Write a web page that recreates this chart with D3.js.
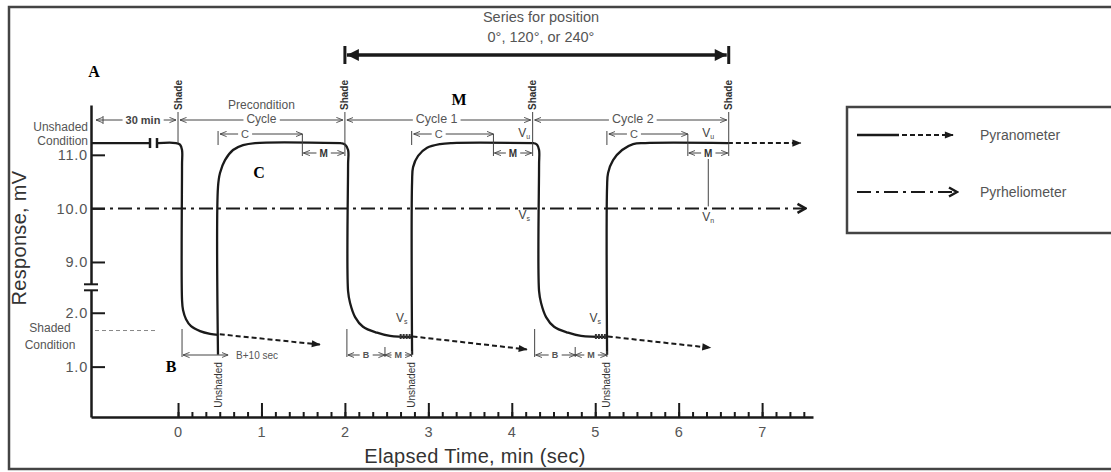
<!DOCTYPE html>
<meta charset="utf-8">
<style>
  body { margin: 0; background: #fff; }
  svg { display: block; font-family: "Liberation Sans", Arial, sans-serif; }
</style>
<body>
<div class="chart"></div>
<script src="https://d3js.org/d3.v7.min.js"></script>
<script>
// ---- data (time in min, response in mV) ----
const xTicks = [0, 1, 2, 3, 4, 5, 6, 7];
const yTicks = [11.0, 10.0, 9.0, 2.0, 1.0];
const unshadedLevel = 11.22;
const shadedLevel = 1.67;
const pyrhelioLevel = 10.0;

const shadeTimes = [0, 2.0, 4.25, 6.6];
const unshadeTimes = [0.48, 2.80, 5.14];
const mStarts = [1.49, 3.78, 6.11];
const bEnds = [0.62, 2.48, 4.76];

// pyranometer trace, points along the drawn curve
const pyranoLead = [[-1.043, 11.22], [-0.33, 11.22]];
const pyranoDrops = [
  [[-0.24, 11.22], [-0.024, 11.22], [0.024, 11.19], [0.048, 11.09], [0.048, 10.81], [0.048, 2.24],
   [0.060, 2.05], [0.096, 1.88], [0.156, 1.75], [0.264, 1.66], [0.384, 1.61], [0.479, 1.59]],
  [[1.954, 11.22], [2.002, 11.19], [2.038, 11.09], [2.038, 10.81], [2.038, 2.42],
   [2.062, 2.18], [2.122, 1.92], [2.217, 1.74], [2.385, 1.63], [2.541, 1.57], [2.805, 1.55]],
  [[4.267, 11.22], [4.303, 11.19], [4.327, 11.09], [4.327, 10.81], [4.327, 2.42],
   [4.351, 2.18], [4.411, 1.92], [4.507, 1.74], [4.675, 1.63], [4.830, 1.57], [5.142, 1.55]]
];
const pyranoRises = [
  [[0.479, 1.22], [0.479, 10.40], [0.503, 10.66], [0.563, 10.90], [0.659, 11.09], [0.779, 11.18],
   [0.923, 11.22], [1.954, 11.22]],
  [[2.805, 1.22], [2.805, 10.49], [2.817, 10.77], [2.877, 10.98], [2.985, 11.13], [3.140, 11.20],
   [3.284, 11.22], [4.267, 11.22]],
  [[5.142, 1.22], [5.142, 10.40], [5.154, 10.66], [5.214, 10.90], [5.322, 11.09], [5.454, 11.20],
   [5.598, 11.22], [6.592, 11.22]]
];
const shadedTails = [
  [[0.50, 1.60], [1.70, 1.41]],
  [[2.81, 1.56], [4.18, 1.32]],
  [[5.15, 1.56], [6.38, 1.35]]
];
const unshadedTail = [[6.59, 11.22], [7.46, 11.22]];
const pyrhelio = [[-1.043, 10.0], [7.52, 10.0]];

const W = 1111, H = 472;
const svg = d3.select(".chart").append("svg").attr("width", W).attr("height", H);

const x = d3.scaleLinear().domain([-1.043, 7.61]).range([91, 813]);
// broken axis: lower part 0..2.4, upper part 8.6..11.93
const y = d3.scaleLinear().domain([0.065, 2.4, 8.6, 11.93]).range([417, 291.2, 283.4, 105]);

const ink = "#1a1a1a", grey = "#555";

// markers
const defs = svg.append("defs");
defs.append("marker").attr("id", "tri").attr("viewBox", "0 0 10 10")
  .attr("refX", 9).attr("refY", 5).attr("markerWidth", 10).attr("markerHeight", 9)
  .attr("markerUnits", "userSpaceOnUse").attr("orient", "auto-start-reverse")
  .append("path").attr("d", "M0,1L10,5L0,9Z").attr("fill", ink);
defs.append("marker").attr("id", "chev").attr("viewBox", "0 0 12 12")
  .attr("refX", 10).attr("refY", 6).attr("markerWidth", 12).attr("markerHeight", 12)
  .attr("markerUnits", "userSpaceOnUse").attr("orient", "auto")
  .append("path").attr("d", "M2,1.5L10,6L2,10.5").attr("fill", "none").attr("stroke", ink).attr("stroke-width", 2.5);
defs.append("marker").attr("id", "small").attr("viewBox", "0 0 8 8")
  .attr("refX", 7.5).attr("refY", 4).attr("markerWidth", 7).attr("markerHeight", 7)
  .attr("markerUnits", "userSpaceOnUse").attr("orient", "auto-start-reverse")
  .append("path").attr("d", "M0,1L7.5,4L0,7").attr("fill", "none").attr("stroke", "#444").attr("stroke-width", 1);
defs.append("marker").attr("id", "big").attr("viewBox", "0 0 12 12")
  .attr("refX", 12).attr("refY", 6).attr("markerWidth", 13).attr("markerHeight", 12)
  .attr("markerUnits", "userSpaceOnUse").attr("orient", "auto-start-reverse")
  .append("path").attr("d", "M0,0L12,6L0,12Z").attr("fill", ink);

// outer frame
svg.append("rect").attr("x", 9).attr("y", 7).attr("width", 1130).attr("height", 462)
  .attr("fill", "none").attr("stroke", "#444").attr("stroke-width", 2.5);

// axes
svg.append("g").attr("transform", `translate(0,${y.range()[0]})`)
  .call(d3.axisBottom(x).tickValues(xTicks).tickSize(-14).tickSizeOuter(0).tickPadding(10).tickFormat(d3.format("d")));
svg.append("g").attr("transform", `translate(0,${y.range()[0]})`)
  .call(d3.axisBottom(x).tickValues(d3.range(0, 7.61, 1 / 6)).tickSize(-5).tickSizeOuter(0).tickFormat(""))
  .call(g => g.select(".domain").remove());
svg.append("g").attr("transform", `translate(${x.range()[0]},0)`)
  .call(d3.axisLeft(y).tickValues(yTicks).tickSize(-14).tickSizeOuter(0).tickPadding(3).tickFormat(d3.format(".1f")));
svg.selectAll(".domain").attr("stroke", ink).attr("stroke-width", 2.5);
svg.selectAll(".tick line").attr("stroke", ink).attr("stroke-width", 2);
svg.selectAll(".tick text").attr("fill", grey).attr("font-size", 14.5).attr("letter-spacing", 0.8);

// y-axis break
const yb = (y(2.4) + y(8.6)) / 2;
svg.append("rect").attr("x", 84).attr("y", yb - 3).attr("width", 14).attr("height", 6).attr("fill", "#fff");
[-3, 3].forEach(o => svg.append("line").attr("x1", 84).attr("x2", 98).attr("y1", yb + o).attr("y2", yb + o)
  .attr("stroke", ink).attr("stroke-width", 2));

// axis titles
svg.append("text").attr("transform", "translate(26,238) rotate(-90)").attr("text-anchor", "middle")
  .attr("font-size", 20).attr("fill", "#333").attr("letter-spacing", 0.3).text("Response, mV");
svg.append("text").attr("x", 475).attr("y", 463).attr("text-anchor", "middle")
  .attr("font-size", 20).attr("fill", "#333").attr("letter-spacing", 0.3).text("Elapsed Time, min (sec)");

// shaded reference level
svg.append("line").attr("x1", 95).attr("x2", 156).attr("y1", y(shadedLevel)).attr("y2", y(shadedLevel))
  .attr("stroke", "#888").attr("stroke-width", 1).attr("stroke-dasharray", "4,3");

const line = d3.line().x(d => x(d[0])).y(d => y(d[1]));
const curve = d3.line().x(d => x(d[0])).y(d => y(d[1])).curve(d3.curveCatmullRom.alpha(0.5));

// pyrheliometer
svg.append("path").attr("d", line(pyrhelio)).attr("fill", "none").attr("stroke", ink)
  .attr("stroke-width", 2).attr("stroke-dasharray", "14,5,3,5").attr("marker-end", "url(#chev)");

// pyranometer
const pyr = svg.append("g").attr("fill", "none").attr("stroke", ink).attr("stroke-width", 2.3);
pyr.append("path").attr("d", line(pyranoLead));
pyranoDrops.concat(pyranoRises).forEach(p => pyr.append("path").attr("d", curve(p)));
shadedTails.concat([unshadedTail]).forEach(p => pyr.append("path").attr("d", line(p))
  .attr("stroke-width", 2).attr("stroke-dasharray", "5,3").attr("marker-end", "url(#tri)"));
// break symbol on lead line
const yu = y(unshadedLevel);
[150, 157].forEach(px => svg.append("line").attr("x1", px).attr("x2", px).attr("y1", yu - 5).attr("y2", yu + 5)
  .attr("stroke", ink).attr("stroke-width", 2.5));
// measurement marks at end of shaded decay
unshadeTimes.slice(1).forEach(t => svg.append("line").attr("x1", x(t) - 12).attr("x2", x(t)).attr("y1", y(1.56)).attr("y2", y(1.56))
  .attr("stroke", "#333").attr("stroke-width", 5).attr("stroke-dasharray", "2,1"));

// ---- annotations ----
const ann = svg.append("g").attr("fill", "none").attr("stroke", "#444").attr("stroke-width", 1);
function dim(x0, x1, yy) {
  ann.append("line").attr("x1", x0).attr("x2", x1).attr("y1", yy).attr("y2", yy)
    .attr("marker-start", "url(#small)").attr("marker-end", "url(#small)");
}
function label(txt, px, py, size, opts = {}) {
  const t = svg.append("text").attr("x", px).attr("y", py).attr("text-anchor", opts.anchor || "middle")
    .attr("dominant-baseline", "central").attr("font-size", size).attr("fill", opts.fill || grey)
    .attr("font-weight", opts.weight || null).text(txt);
  if (opts.bg) {
    const b = t.node().getBBox();
    svg.insert("rect", () => t.node()).attr("x", b.x - 3).attr("y", b.y).attr("width", b.width + 6)
      .attr("height", b.height).attr("fill", "#fff");
  }
  return t;
}
function vline(px, y0, y1, w) {
  ann.append("line").attr("x1", px).attr("x2", px).attr("y1", y0).attr("y2", y1).attr("stroke-width", w || 1);
}

// top row: 30 min | precondition | cycle 1 | cycle 2
const rowY = 120;
const segEnds = [x.range()[0] + 3].concat(shadeTimes.map(t => x(t)));
for (let i = 0; i < 4; i++) dim(segEnds[i] + 2, segEnds[i + 1] - 2, rowY);
vline(103, rowY - 4, rowY + 4);
label("30 min", x(-0.42), rowY, 11, { bg: true, weight: "bold", fill: "#444" });
label("Cycle", x(1.0), rowY - 1, 12, { bg: true });
label("Precondition", x(1.0), rowY - 15, 12);
label("Cycle 1", x(3.1), rowY - 1, 12.5, { bg: true });
label("Cycle 2", x(5.45), rowY - 1, 12.5, { bg: true });
shadeTimes.forEach(t => {
  vline(x(t), 112, yu);
  svg.append("text").attr("transform", `translate(${x(t)},95) rotate(-90)`).attr("text-anchor", "middle")
    .attr("dominant-baseline", "central").attr("font-size", 10).attr("font-weight", "bold")
    .attr("fill", "#333").text("Shade");
});
unshadeTimes.forEach(t => {
  svg.append("text").attr("transform", `translate(${x(t)},385) rotate(-90)`).attr("text-anchor", "middle")
    .attr("dominant-baseline", "central").attr("font-size", 10).attr("fill", "#333").text("Unshaded");
});

// C and M brackets on the plateau
const cY = 134, mY = 153;
unshadeTimes.forEach((t, i) => {
  vline(x(t), cY - 3, cY + 11);
  dim(x(t) + 2, x(mStarts[i]), cY);
  label("C", x(t) + 27, cY, 11, { bg: true });
  vline(x(mStarts[i]), cY, mY + 3);
  vline(x(shadeTimes[i + 1]), yu, mY + 3);
  dim(x(mStarts[i]) + 1, x(shadeTimes[i + 1]) - 1, mY);
  label("M", (x(mStarts[i]) + x(shadeTimes[i + 1])) / 2, mY, 10, { bg: true, weight: "bold", fill: "#333" });
});
// line from last M window down to pyrheliometer level
const mMid = (x(mStarts[2]) + x(shadeTimes[3])) / 2;
vline(mMid, mY + 6, y(pyrhelioLevel) - 2);

// B brackets in the shaded part
const bY = 355;
vline(x(0.048), 329, bY + 2);
dim(x(0.048) + 1, x(unshadeTimes[0]) + 10, bY);
label("B+10 sec", x(unshadeTimes[0]) + 18, bY, 10, { anchor: "start" });
[1, 2].forEach(i => {
  const s = x(shadeTimes[i]) + 2, b = x(bEnds[i]), e = x(unshadeTimes[i]);
  vline(s, 329, bY + 2);
  dim(s + 1, b, bY);
  vline(b, bY - 8, bY + 2);
  dim(b, e, bY);
  vline(e, bY - 4, bY + 2);
  label("B", (s + b) / 2, bY, 9, { bg: true, weight: "bold" });
  label("M", (b + e) / 2, bY, 9, { bg: true, weight: "bold" });
});

// V labels
function vlab(px, py, sub) {
  const t = svg.append("text").attr("x", px).attr("y", py).attr("text-anchor", "middle")
    .attr("dominant-baseline", "central").attr("font-size", 12).attr("fill", "#444").text("V");
  t.append("tspan").attr("font-size", 7).attr("dy", 3).text(sub);
}
vlab(x(4.15), 133, "u");
vlab(mMid, 133, "u");
vlab(x(4.15), 215, "s");
vlab(mMid, 217, "n");
vlab(x(2.68), 318, "s");
vlab(x(5.0), 318, "s");

// left side condition labels
label("Unshaded", 88, 127, 12, { anchor: "end" });
label("Condition", 88, 141, 12, { anchor: "end" });
label("Shaded", 50, 328, 12);
label("Condition", 50, 345, 12);

// header bracket
label("Series for position", x(4.35), 17, 14.5);
label("0°, 120°, or 240°", x(4.35), 37, 14.5);
const hY = 55;
svg.append("line").attr("x1", x(shadeTimes[1]) + 2).attr("x2", x(shadeTimes[3]) - 2).attr("y1", hY).attr("y2", hY)
  .attr("stroke", ink).attr("stroke-width", 3.5)
  .attr("marker-start", "url(#big)").attr("marker-end", "url(#big)");
[shadeTimes[1], shadeTimes[3]].forEach(t => svg.append("line").attr("x1", x(t)).attr("x2", x(t))
  .attr("y1", hY - 9).attr("y2", hY + 9).attr("stroke", ink).attr("stroke-width", 3));

// big letters
[["A", 94, 71], ["M", 459, 99], ["C", 259, 172], ["B", 171, 366]].forEach(d =>
  svg.append("text").attr("x", d[1]).attr("y", d[2]).attr("text-anchor", "middle").attr("dominant-baseline", "central")
    .attr("font-family", "Liberation Serif, Times New Roman, serif").attr("font-weight", "bold")
    .attr("font-size", 16).attr("fill", "#000").text(d[0]));

// legend
const lg = svg.append("g");
lg.append("rect").attr("x", 847).attr("y", 107).attr("width", 300).attr("height", 126)
  .attr("fill", "#fff").attr("stroke", "#444").attr("stroke-width", 2.5);
lg.append("line").attr("x1", 857).attr("x2", 899).attr("y1", 135).attr("y2", 135).attr("stroke", ink).attr("stroke-width", 2.3);
lg.append("line").attr("x1", 902).attr("x2", 953).attr("y1", 135).attr("y2", 135).attr("stroke", ink)
  .attr("stroke-width", 2).attr("stroke-dasharray", "5,3").attr("marker-end", "url(#tri)");
lg.append("line").attr("x1", 857).attr("x2", 957).attr("y1", 192).attr("y2", 192).attr("stroke", ink)
  .attr("stroke-width", 2).attr("stroke-dasharray", "14,5,3,5").attr("marker-end", "url(#chev)");
label("Pyranometer", 980, 135, 14, { anchor: "start" });
label("Pyrheliometer", 980, 192, 14, { anchor: "start" });
</script>
